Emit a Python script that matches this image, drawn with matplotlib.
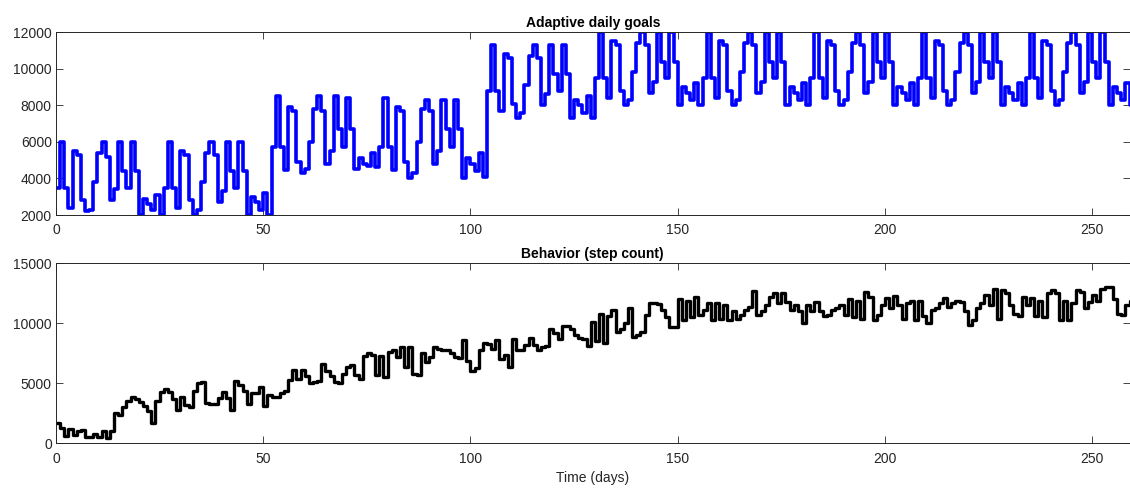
import numpy as np
import matplotlib
matplotlib.use("Agg")
import matplotlib.pyplot as plt

plt.rcParams['font.family'] = ['Liberation Sans', 'DejaVu Sans']

days = np.arange(260)

# daily step goal, one row per 26-day block
goals = [
    3500, 6000, 3500, 2400, 5500, 5300, 2800, 2200, 2300, 3800, 5400, 6000, 5200, 2800, 3400, 6000, 4400, 3500, 6000, 4400, 2000, 2900, 2600, 2300, 3100, 2000,
    3500, 6000, 3500, 2400, 5500, 5300, 2800, 2000, 2300, 3800, 5400, 6000, 5300, 2700, 3300, 6000, 4400, 3500, 6000, 4400, 2000, 3000, 2700, 2300, 3200, 2000,
    5700, 8500, 5700, 4450, 7900, 7700, 4900, 4300, 4500, 6000, 7800, 8500, 7700, 4800, 5500, 8500, 6700, 5700, 8400, 6700, 4500, 5100, 4800, 4700, 5400, 4600,
    5700, 8400, 5700, 4450, 7900, 7700, 4900, 4000, 4300, 6000, 7800, 8300, 7700, 4800, 5500, 8300, 6700, 5700, 8300, 6700, 4000, 5100, 4800, 4400, 5400, 4100,
    8800, 11300, 8800, 7700, 10800, 10600, 8100, 7300, 7600, 9100, 10700, 11300, 10600, 8000, 8600, 11300, 9700, 8800, 11300, 9700, 7300, 8300, 8000, 7600, 8500, 7300,
    9500, 12000, 9500, 8400, 11500, 11300, 8800, 8000, 8300, 9800, 11400, 12000, 11300, 8700, 9300, 12000, 10400, 9500, 12000, 10400, 8000, 9000, 8700, 8300, 9200, 8000,
    9500, 12000, 9500, 8400, 11500, 11300, 8800, 8000, 8300, 9800, 11400, 12000, 11300, 8700, 9300, 12000, 10400, 9500, 12000, 10400, 8000, 9000, 8700, 8300, 9200, 8000,
    9500, 12000, 9500, 8400, 11500, 11300, 8800, 8000, 8300, 9800, 11400, 12000, 11300, 8700, 9300, 12000, 10400, 9500, 12000, 10400, 8000, 9000, 8700, 8300, 9200, 8000,
    9500, 12000, 9500, 8400, 11500, 11300, 8800, 8000, 8300, 9800, 11400, 12000, 11300, 8700, 9300, 12000, 10400, 9500, 12000, 10400, 8000, 9000, 8700, 8300, 9200, 8000,
    9500, 12000, 9500, 8400, 11500, 11300, 8800, 8000, 8300, 9800, 11400, 12000, 11300, 8700, 9300, 12000, 10400, 9500, 12000, 10400, 8000, 9000, 8700, 8300, 9200, 8000,
]

# measured steps per day
steps = [
    1700, 1300, 600, 1200, 700, 1000, 1100, 550, 500, 800,
    550, 1000, 450, 1000, 2500, 2400, 3000, 3500, 3850, 3700,
    3450, 3100, 2700, 1700, 3500, 4300, 4550, 4300, 3700, 2800,
    3900, 3200, 3050, 4400, 5000, 5100, 3400, 3250, 3300, 3800,
    4300, 3800, 2800, 5200, 4900, 4400, 3300, 4200, 4200, 4700,
    3100, 4000, 3900, 3900, 4200, 4400, 5300, 6100, 5400, 6100,
    5600, 5000, 5100, 5200, 6600, 6000, 5600, 5100, 5000, 5800,
    6400, 6500, 5700, 5400, 7300, 7500, 7400, 5700, 7300, 5500,
    7600, 7800, 7200, 8000, 6400, 8000, 5800, 5700, 7500, 6800,
    7200, 8000, 7900, 7800, 7800, 7500, 7200, 7100, 8600, 6900,
    6000, 6300, 7800, 8400, 8300, 7900, 8600, 7000, 7400, 6400,
    8700, 7800, 7800, 8200, 8800, 8200, 7800, 8000, 8100, 9500,
    9200, 8700, 9800, 9800, 9500, 9000, 8800, 8700, 8100, 10100,
    8500, 10800, 8400, 10600, 11100, 9300, 9500, 10000, 11250, 8900,
    9000, 9300, 10700, 11700, 11700, 11600, 11100, 10500, 9700, 9700,
    12000, 10300, 11900, 10500, 12200, 10700, 11100, 11700, 10300, 11700,
    10400, 11500, 10300, 11000, 10400, 10700, 11100, 11400, 12700, 10700,
    11000, 11500, 12200, 12500, 11700, 12500, 11800, 11100, 11500, 11000,
    10000, 11500, 11000, 11800, 11000, 10600, 10700, 11100, 11250, 11500,
    10700, 12000, 10500, 11900, 10400, 12600, 12200, 10300, 10700, 11500,
    12100, 11300, 12300, 11500, 10400, 11700, 11900, 10300, 11900, 10600,
    10000, 11100, 11250, 11700, 12100, 11400, 11700, 11900, 11800, 11000,
    9900, 10300, 11250, 11700, 12400, 11500, 12900, 10400, 12800, 12500,
    11500, 10800, 10600, 12200, 11500, 12100, 10600, 11900, 10500, 12500,
    12800, 12500, 10300, 11900, 10300, 11700, 12800, 12600, 11250, 11800,
    12400, 11900, 12900, 13000, 13000, 12000, 10800, 10700, 11500, 11900,
]

x_ticks = [0, 50, 100, 150, 200, 250]
goal_ticks = [2000, 4000, 6000, 8000, 10000, 12000]
step_ticks = [0, 5000, 10000, 15000]

W, H = 1130, 488
fig = plt.figure(figsize=(W / 100, H / 100), dpi=100)
left = 56 / W
width = (1129.5 - 56) / W
ax1 = fig.add_axes([left, 1 - 215 / H, width, (215 - 32.3) / H])
ax2 = fig.add_axes([left, 1 - 443.3 / H, width, 180 / H])

ax1.step(days, goals, where='post', color=(0, 0, 1), lw=2.6,
         solid_joinstyle='round', solid_capstyle='round')
ax2.step(days, steps, where='post', color='black', lw=2.4,
         solid_joinstyle='round', solid_capstyle='round')

ax1.set_ylim(2000, 12000)
ax1.set_yticks(goal_ticks)
ax2.set_ylim(0, 15000)
ax2.set_yticks(step_ticks)

ax1.set_title('Adaptive daily goals', fontsize=10, fontweight='bold', pad=4)
ax2.set_title('Behavior (step count)', fontsize=10, fontweight='bold', pad=4)
ax2.set_xlabel('Time (days)', fontsize=10, color='#262626', labelpad=4)

for ax in (ax1, ax2):
    ax.set_xlim(0, 259)
    ax.set_xticks(x_ticks)
    ax.tick_params(direction='in', top=True, right=True, length=5, width=0.6,
                   labelsize=10, colors='#262626')
    ax.tick_params(axis='x', pad=6)
    ax.tick_params(axis='y', pad=3)
    for s in ax.spines.values():
        s.set_color('#262626')
        s.set_linewidth(0.7)

fig.savefig('out.png', dpi=100)
